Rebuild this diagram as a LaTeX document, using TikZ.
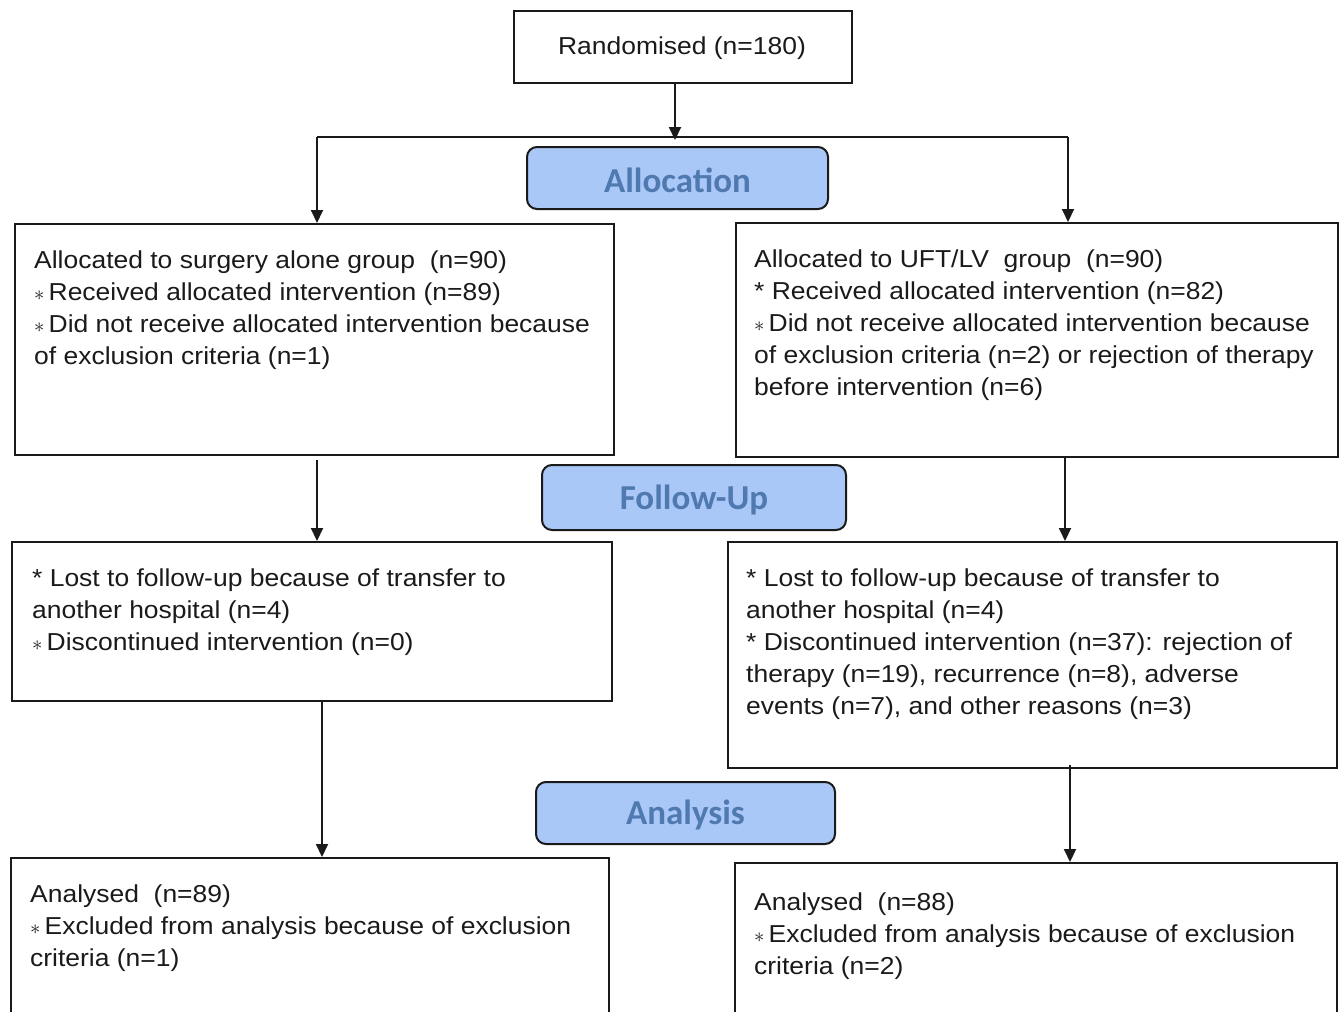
\documentclass[tikz,border=0pt]{standalone}
\usepackage{fontspec}
\setmainfont[FakeStretch=1.08]{Liberation Sans}
\newfontfamily\headfont{Carlito}
\usetikzlibrary{arrows.meta}
\definecolor{phasefill}{HTML}{A9C8F7}
\definecolor{phasetext}{HTML}{5079B0}
\definecolor{ink}{HTML}{1A1A1A}
\newcommand\sast{{\fontsize{21}{21}\selectfont$\ast$}}
\tikzset{
  box/.style={draw=ink, line width=2pt, anchor=north west, inner sep=0pt},
  phase/.style={draw=ink, line width=2pt, fill=phasefill, rounded corners=10pt, anchor=north west, inner sep=0pt},
  phasetxt/.style={font=\headfont\bfseries\fontsize{35}{35}\selectfont, text=phasetext},
  txt/.style={anchor=base west, align=left, inner sep=0pt, text=ink,
     font=\fontsize{24.5}{32}\selectfont},
  arr/.style={draw=ink, line width=2pt, -{Triangle[length=13pt,width=12pt]}},
  ln/.style={draw=ink, line width=2pt},
}
\begin{document}
\begin{tikzpicture}[x=1pt,y=-1pt]
\useasboundingbox (0,0) rectangle (1339,1012);
\clip (0,0) rectangle (1339,1012);
% randomised
\node[box, minimum width=338pt, minimum height=72pt] (rand) at (513,10) {};
\node[anchor=base, inner sep=0pt, text=ink, font=\fontsize{24.5}{32}\selectfont] (randt) at (682,54) {Randomised (n=180)};
% split
\coordinate (sL) at (317,137);
\coordinate (sR) at (1068,137);
\coordinate (sM) at (675,137);
\draw[arr] (rand.south -| sM) -- ([yshift=-3pt]sM);
\draw[ln] (sL) -- (sR);
% phase boxes
\node[phase, minimum width=301pt, minimum height=62pt] (alloc) at (526,146) {};
\node[phasetxt] (alloct) at ([yshift=-2pt]alloc.center) {Allocation};
\node[phase, minimum width=304pt, minimum height=65pt] (fup) at (541,464) {};
\node[phasetxt] (fupt) at ([yshift=-2pt]fup.center) {Follow-Up};
\node[phase, minimum width=299pt, minimum height=62pt] (ana) at (535,781) {};
\node[phasetxt] (anat) at ([yshift=-2pt]ana.center) {Analysis};
% boxes row 1
\node[box, minimum width=599pt, minimum height=231pt] (l1) at (14,223) {};
\node[box, minimum width=602pt, minimum height=234pt] (r1) at (735,222) {};
\node[txt] (l1t) at (34,364) {Allocated to surgery alone group\ \ (n=90)\\
\sast\,Received allocated intervention (n=89)\\
\sast\,Did not receive allocated intervention because\\
of exclusion criteria (n=1)};
\node[txt] (r1t) at (754,395) {Allocated to UFT/LV\ \ group\ \ (n=90)\\
*\ Received allocated intervention (n=82)\\
\sast\,Did not receive allocated intervention because\\
of exclusion criteria (n=2) or rejection of therapy\\
before intervention (n=6)};
\draw[arr] (sL) -- (sL |- l1.north);
\draw[arr] (sR) -- (sR |- r1.north);
% row 2
\node[box, minimum width=600pt, minimum height=159pt] (l2) at (11,541) {};
\node[box, minimum width=609pt, minimum height=226pt] (r2) at (727,541) {};
\node[txt] (l2t) at (32,650) {*\ Lost to follow-up because of transfer to\\
another hospital (n=4)\\
\sast\,Discontinued intervention (n=0)};
\node[txt] (r2t) at (746,714) {*\ Lost to follow-up because of transfer to\\
another hospital (n=4)\\
*\ Discontinued intervention (n=37): rejection of\\
therapy (n=19), recurrence (n=8), adverse\\
events (n=7), and other reasons (n=3)};
\coordinate (a1L) at (317,460);
\coordinate (a1R) at (1065,458);
\draw[arr] (a1L) -- (a1L |- l2.north);
\draw[arr] (a1R) -- (a1R |- r2.north);
% row 3
\node[box, minimum width=598pt, minimum height=220pt] (l3) at (10,857) {};
\node[box, minimum width=602pt, minimum height=220pt] (r3) at (734,862) {};
\node[txt] (l3t) at (30,966) {Analysed\ \ (n=89)\\
\sast\,Excluded\ from analysis because of exclusion\\
criteria (n=1)};
\node[txt] (r3t) at (754,974) {Analysed\ \ (n=88)\\
\sast\,Excluded\ from analysis because of exclusion\\
criteria (n=2)};
\coordinate (a2L) at (322,700);
\coordinate (a2R) at (1070,765);
\draw[arr] (a2L) -- (a2L |- l3.north);
\draw[arr] (a2R) -- (a2R |- r3.north);
\end{tikzpicture}
\end{document}
